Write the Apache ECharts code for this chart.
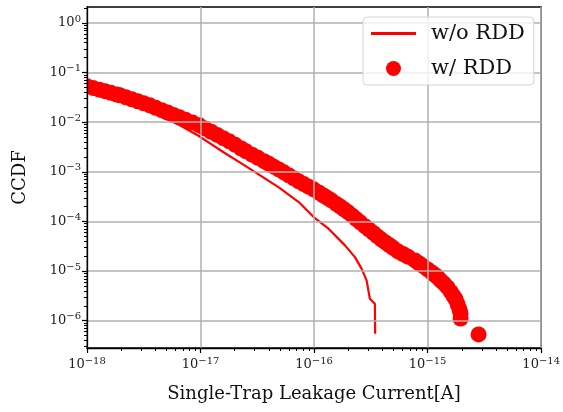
<!DOCTYPE html>
<html>
<head>
<meta charset="utf-8">
<script src="https://cdn.jsdelivr.net/npm/echarts@6/dist/echarts.min.js"></script>
<style>html,body{margin:0;padding:0;background:#fff;}#c{width:563px;height:412px;}</style>
</head>
<body>
<div id="c"></div>
<script>
// w/o RDD (line)
const noRddX = [1.00e-18,1.95e-18,3.57e-18,6.52e-18,9.76e-18,1.62e-17,2.52e-17,3.62e-17,4.89e-17,7.32e-17,9.90e-17,1.34e-16,1.87e-16,2.29e-16,2.62e-16,2.90e-16,3.10e-16,3.43e-16,3.45e-16];
const noRddY = [0.0483,0.0290,0.0166,0.00880,0.00520,0.00243,0.00129,7.57e-4,4.87e-4,2.46e-4,1.23e-4,7.16e-5,3.30e-5,1.91e-5,1.12e-5,6.49e-6,2.78e-6,2.20e-6,5.47e-7];
// w/ RDD (markers)
const rddX = [8.70e-19,1.00e-18,1.13e-18,1.28e-18,1.44e-18,1.62e-18,1.83e-18,1.95e-18,2.20e-18,2.48e-18,2.80e-18,3.16e-18,3.57e-18,4.02e-18,4.54e-18,5.12e-18,5.78e-18,6.52e-18,7.36e-18,8.48e-18,9.76e-18,1.10e-17,1.24e-17,1.40e-17,1.58e-17,1.79e-17,2.02e-17,2.28e-17,2.52e-17,2.84e-17,3.20e-17,3.62e-17,4.00e-17,4.42e-17,4.89e-17,5.41e-17,5.98e-17,6.62e-17,7.32e-17,8.10e-17,8.95e-17,9.90e-17,1.10e-16,1.21e-16,1.31e-16,1.42e-16,1.57e-16,1.71e-16,1.85e-16,2.00e-16,2.17e-16,2.35e-16,2.55e-16,2.82e-16,3.06e-16,3.32e-16,3.59e-16,3.90e-16,4.22e-16,4.58e-16,4.96e-16,5.49e-16,6.07e-16,6.71e-16,7.73e-16,8.38e-16,9.08e-16,1.00e-15,1.09e-15,1.16e-15,1.23e-15,1.30e-15,1.39e-15,1.50e-15,1.60e-15,1.70e-15,1.77e-15,1.84e-15,1.91e-15,1.95e-15,1.95e-15,2.81e-15];
const rddY = [0.0581,0.0529,0.0491,0.0454,0.0422,0.0392,0.0362,0.0349,0.0318,0.0290,0.0264,0.0240,0.0219,0.0196,0.0175,0.0157,0.0140,0.01256,0.01123,0.00986,0.00866,0.00746,0.00643,0.00555,0.00478,0.00412,0.00350,0.00296,0.00259,0.00222,0.00192,0.00164,0.00145,0.00127,0.00112,9.77e-4,8.50e-4,7.39e-4,6.43e-4,5.68e-4,5.03e-4,4.44e-4,3.84e-4,3.34e-4,2.98e-4,2.66e-4,2.26e-4,1.98e-4,1.74e-4,1.53e-4,1.31e-4,1.12e-4,9.63e-5,7.96e-5,6.83e-5,5.89e-5,5.05e-5,4.36e-5,3.83e-5,3.36e-5,2.94e-5,2.49e-5,2.21e-5,1.95e-5,1.64e-5,1.44e-5,1.27e-5,1.08e-5,9.33e-6,8.34e-6,7.46e-6,6.49e-6,5.65e-6,4.69e-6,3.81e-6,3.09e-6,2.69e-6,2.13e-6,1.69e-6,1.40e-6,1.11e-6,5.29e-7];
// ticks
const xMajor = [1e-18,1e-17,1e-16,1e-15,1e-14];
const yMajor = [1e-6,1e-5,1e-4,1e-3,1e-2,1e-1,1];
const mult = [2,3,4,5,6,7,8,9];
const xMinor = [];
[1e-18,1e-17,1e-16,1e-15].forEach(d => mult.forEach(m => xMinor.push(m*d)));
const yMinor = [];
[1e-7,1e-6,1e-5,1e-4,1e-3,1e-2,1e-1,1].forEach(d => mult.forEach(m => { const v = m*d; if (v > 2.82e-7 && v < 2.1) yMinor.push(v); }));

const X_MIN = 1e-18, X_MAX = 1e-14, Y_MIN = 2.82e-7, Y_MAX = 2.1;
const serif = '"DejaVu Serif", serif';
function sup(v) {
  const e = Math.round(Math.log10(v));
  return '{b|10}{s|' + String(e).replace('-', '\u2212') + '}';
}
const rich = {
  b: {fontFamily: serif, fontSize: 13, color: '#222'},
  s: {fontFamily: serif, fontSize: 10, color: '#222', padding: [0, 0, 8, 0]}
};
const lineIcon = 'path://M0,0L0,0.01L0.01,0.01ZM0,6L45,6L45,9L0,9ZM0,15L0,15.01L0.01,15.01Z';

const chart = echarts.init(document.getElementById('c'), null, {renderer: 'canvas'});
chart.setOption({
  animation: false,
  grid: {left: 87, right: 19, top: 7, bottom: 64, show: true, borderColor: '#000', borderWidth: 1.3, backgroundColor: 'transparent'},
  graphic: [{
    type: 'rect', z: 5, silent: true,
    shape: {x: 0, y: 60, width: 86.3, height: 50},
    style: {fill: '#fff'}
  }],
  legend: {
    left: 363, top: 17, orient: 'vertical', z: 20,
    backgroundColor: 'rgba(255,255,255,0.8)', borderColor: '#d4d4d4', borderWidth: 1, borderRadius: 4,
    padding: [6, 9, 6, 8], itemWidth: 45, itemHeight: 15, itemGap: 14,
    textStyle: {fontFamily: serif, fontSize: 21, color: '#111', padding: [0, 0, 0, 10]},
    data: [{name: 'w/o RDD', icon: lineIcon}, {name: 'w/ RDD', icon: 'circle'}]
  },
  xAxis: [{
    type: 'log', min: X_MIN, max: X_MAX, logBase: 10, z: 10,
    name: 'Single-Trap Leakage Current[A]', nameLocation: 'middle', nameGap: 37,
    nameTextStyle: {fontFamily: serif, fontSize: 18, color: '#111'},
    axisLine: {show: true, onZero: false, lineStyle: {color: '#000', width: 1.3}},
    axisTick: {show: true, length: 5, customValues: xMajor, lineStyle: {color: '#000', width: 1.2}},
    axisLabel: {customValues: xMajor, formatter: sup, rich: rich, margin: 8},
    splitLine: {show: true, lineStyle: {color: '#b0b0b0', width: 1.5}},
    minorTick: {show: false}
  }, {
    type: 'log', min: X_MIN, max: X_MAX, logBase: 10, position: 'bottom', z: 10,
    axisLine: {show: false}, axisLabel: {show: false}, splitLine: {show: false},
    axisTick: {show: true, length: 3, customValues: xMinor, lineStyle: {color: '#000', width: 1}}
  }],
  yAxis: [{
    type: 'log', min: Y_MIN, max: Y_MAX, logBase: 10, z: 10,
    name: 'CCDF', nameLocation: 'middle', nameGap: 58, nameRotate: 90,
    nameTextStyle: {fontFamily: serif, fontSize: 18, color: '#111'},
    axisLine: {show: true, onZero: false, lineStyle: {color: '#000', width: 1.3}},
    axisTick: {show: true, length: 5, customValues: yMajor, lineStyle: {color: '#000', width: 1.2}},
    axisLabel: {customValues: yMajor, formatter: sup, rich: rich, margin: 6},
    splitLine: {show: true, lineStyle: {color: '#b0b0b0', width: 1.5}}
  }, {
    type: 'log', min: Y_MIN, max: Y_MAX, logBase: 10, position: 'left', z: 10,
    axisLine: {show: false}, axisLabel: {show: false}, splitLine: {show: false},
    axisTick: {show: true, length: 3, customValues: yMinor, lineStyle: {color: '#000', width: 1}}
  }],
  series: [{
    name: 'w/o RDD', type: 'line', symbol: 'none', smooth: false,
    lineStyle: {color: '#ff0000', width: 2.2}, itemStyle: {color: '#ff0000'},
    data: noRddX.map((x, i) => [x, noRddY[i]]), z: 3
  }, {
    name: 'w/ RDD', type: 'scatter', symbol: 'circle', symbolSize: 16, clip: true,
    itemStyle: {color: '#ff0000', opacity: 1},
    data: rddX.map((x, i) => [x, rddY[i]]), z: 2
  }]
});
</script>
</body>
</html>
